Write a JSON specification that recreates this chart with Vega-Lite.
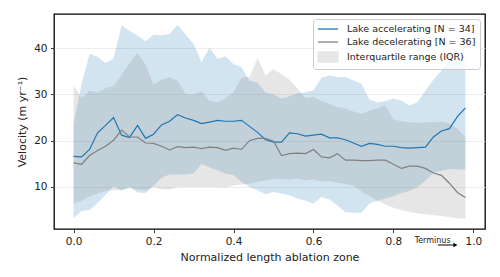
{
  "$schema": "https://vega.github.io/schema/vega-lite/v6.json",
  "width": 431,
  "height": 215,
  "autosize": {"type": "none"},
  "padding": {"left": 54, "top": 14, "right": 15, "bottom": 48},
  "background": "white",
  "config": {
    "view": {"stroke": "#000000", "strokeWidth": 1.3},
    "font": "DejaVu Sans",
    "axis": {
      "labelFont": "DejaVu Sans", "labelFontSize": 10.5, "labelColor": "#222222",
      "titleFont": "DejaVu Sans", "titleFontSize": 11, "titleFontWeight": "normal", "titleColor": "#222222",
      "tickColor": "#222222", "tickSize": 3.5, "tickWidth": 0.9, "domain": false,
      "gridColor": "#e9e9e9", "gridWidth": 0.8, "labelPadding": 3.5
    }
  },
  "datasets": {
    "main": [
      {"x":0.00,"s":"Lake accelerating [N = 34]","mean":16.6,"q25":3.3,"q75":23.7},
      {"x":0.02,"s":"Lake accelerating [N = 34]","mean":16.5,"q25":4.8,"q75":32.3},
      {"x":0.04,"s":"Lake accelerating [N = 34]","mean":18.1,"q25":5.0,"q75":38.8},
      {"x":0.06,"s":"Lake accelerating [N = 34]","mean":21.7,"q25":6.5,"q75":38.1},
      {"x":0.08,"s":"Lake accelerating [N = 34]","mean":23.3,"q25":8.3,"q75":36.8},
      {"x":0.10,"s":"Lake accelerating [N = 34]","mean":25.0,"q25":10.2,"q75":37.7},
      {"x":0.12,"s":"Lake accelerating [N = 34]","mean":21.2,"q25":9.2,"q75":44.9},
      {"x":0.14,"s":"Lake accelerating [N = 34]","mean":20.7,"q25":10.0,"q75":43.8},
      {"x":0.16,"s":"Lake accelerating [N = 34]","mean":23.3,"q25":8.8,"q75":42.7},
      {"x":0.18,"s":"Lake accelerating [N = 34]","mean":20.5,"q25":8.7,"q75":41.5},
      {"x":0.20,"s":"Lake accelerating [N = 34]","mean":21.4,"q25":10.3,"q75":42.9},
      {"x":0.22,"s":"Lake accelerating [N = 34]","mean":23.4,"q25":12.0,"q75":42.8},
      {"x":0.24,"s":"Lake accelerating [N = 34]","mean":24.2,"q25":12.7,"q75":43.1},
      {"x":0.26,"s":"Lake accelerating [N = 34]","mean":25.6,"q25":12.7,"q75":45.1},
      {"x":0.28,"s":"Lake accelerating [N = 34]","mean":24.9,"q25":12.7,"q75":43.0},
      {"x":0.30,"s":"Lake accelerating [N = 34]","mean":24.4,"q25":12.9,"q75":40.9},
      {"x":0.32,"s":"Lake accelerating [N = 34]","mean":23.7,"q25":15.0,"q75":37.0},
      {"x":0.34,"s":"Lake accelerating [N = 34]","mean":24.0,"q25":14.2,"q75":40.1},
      {"x":0.36,"s":"Lake accelerating [N = 34]","mean":24.4,"q25":13.6,"q75":37.7},
      {"x":0.38,"s":"Lake accelerating [N = 34]","mean":24.2,"q25":12.9,"q75":38.2},
      {"x":0.40,"s":"Lake accelerating [N = 34]","mean":24.2,"q25":12.5,"q75":36.6},
      {"x":0.42,"s":"Lake accelerating [N = 34]","mean":24.4,"q25":11.1,"q75":35.9},
      {"x":0.44,"s":"Lake accelerating [N = 34]","mean":23.1,"q25":10.0,"q75":33.0},
      {"x":0.46,"s":"Lake accelerating [N = 34]","mean":21.8,"q25":9.3,"q75":32.5},
      {"x":0.48,"s":"Lake accelerating [N = 34]","mean":20.2,"q25":8.4,"q75":30.5},
      {"x":0.50,"s":"Lake accelerating [N = 34]","mean":19.7,"q25":8.9,"q75":30.0},
      {"x":0.52,"s":"Lake accelerating [N = 34]","mean":19.7,"q25":8.6,"q75":29.1},
      {"x":0.54,"s":"Lake accelerating [N = 34]","mean":21.7,"q25":8.2,"q75":29.6},
      {"x":0.56,"s":"Lake accelerating [N = 34]","mean":21.5,"q25":7.5,"q75":30.2},
      {"x":0.58,"s":"Lake accelerating [N = 34]","mean":21.0,"q25":7.0,"q75":30.5},
      {"x":0.60,"s":"Lake accelerating [N = 34]","mean":21.2,"q25":6.4,"q75":30.9},
      {"x":0.62,"s":"Lake accelerating [N = 34]","mean":21.4,"q25":7.8,"q75":33.6},
      {"x":0.64,"s":"Lake accelerating [N = 34]","mean":20.6,"q25":7.3,"q75":34.1},
      {"x":0.66,"s":"Lake accelerating [N = 34]","mean":20.6,"q25":6.0,"q75":33.7},
      {"x":0.68,"s":"Lake accelerating [N = 34]","mean":20.2,"q25":4.5,"q75":33.8},
      {"x":0.70,"s":"Lake accelerating [N = 34]","mean":19.5,"q25":4.4,"q75":33.0},
      {"x":0.72,"s":"Lake accelerating [N = 34]","mean":18.8,"q25":4.4,"q75":32.3},
      {"x":0.74,"s":"Lake accelerating [N = 34]","mean":19.4,"q25":6.4,"q75":28.9},
      {"x":0.76,"s":"Lake accelerating [N = 34]","mean":19.2,"q25":7.0,"q75":28.3},
      {"x":0.78,"s":"Lake accelerating [N = 34]","mean":18.8,"q25":7.5,"q75":28.6},
      {"x":0.80,"s":"Lake accelerating [N = 34]","mean":18.8,"q25":8.0,"q75":29.1},
      {"x":0.82,"s":"Lake accelerating [N = 34]","mean":18.5,"q25":8.7,"q75":28.7},
      {"x":0.84,"s":"Lake accelerating [N = 34]","mean":18.4,"q25":9.1,"q75":27.6},
      {"x":0.86,"s":"Lake accelerating [N = 34]","mean":18.5,"q25":10.0,"q75":28.3},
      {"x":0.88,"s":"Lake accelerating [N = 34]","mean":18.6,"q25":11.4,"q75":30.8},
      {"x":0.90,"s":"Lake accelerating [N = 34]","mean":20.8,"q25":13.0,"q75":33.2},
      {"x":0.92,"s":"Lake accelerating [N = 34]","mean":22.1,"q25":13.5,"q75":35.1},
      {"x":0.94,"s":"Lake accelerating [N = 34]","mean":22.6,"q25":13.8,"q75":37.1},
      {"x":0.96,"s":"Lake accelerating [N = 34]","mean":25.2,"q25":13.8,"q75":38.0},
      {"x":0.98,"s":"Lake accelerating [N = 34]","mean":27.1,"q25":13.7,"q75":38.3},
      {"x":0.00,"s":"Lake decelerating [N = 36]","mean":15.2,"q25":6.4,"q75":32.0},
      {"x":0.02,"s":"Lake decelerating [N = 36]","mean":14.9,"q25":7.0,"q75":29.2},
      {"x":0.04,"s":"Lake decelerating [N = 36]","mean":16.8,"q25":8.0,"q75":30.8},
      {"x":0.06,"s":"Lake decelerating [N = 36]","mean":17.9,"q25":8.5,"q75":30.4},
      {"x":0.08,"s":"Lake decelerating [N = 36]","mean":18.8,"q25":9.1,"q75":31.4},
      {"x":0.10,"s":"Lake decelerating [N = 36]","mean":20.1,"q25":9.3,"q75":31.8},
      {"x":0.12,"s":"Lake decelerating [N = 36]","mean":22.3,"q25":9.3,"q75":34.2},
      {"x":0.14,"s":"Lake decelerating [N = 36]","mean":20.8,"q25":9.8,"q75":36.8},
      {"x":0.16,"s":"Lake decelerating [N = 36]","mean":20.8,"q25":9.4,"q75":39.0},
      {"x":0.18,"s":"Lake decelerating [N = 36]","mean":19.5,"q25":9.3,"q75":36.5},
      {"x":0.20,"s":"Lake decelerating [N = 36]","mean":19.4,"q25":10.0,"q75":32.1},
      {"x":0.22,"s":"Lake decelerating [N = 36]","mean":18.8,"q25":9.5,"q75":33.2},
      {"x":0.24,"s":"Lake decelerating [N = 36]","mean":18.0,"q25":9.4,"q75":33.7},
      {"x":0.26,"s":"Lake decelerating [N = 36]","mean":18.7,"q25":10.0,"q75":33.0},
      {"x":0.28,"s":"Lake decelerating [N = 36]","mean":18.5,"q25":10.0,"q75":30.1},
      {"x":0.30,"s":"Lake decelerating [N = 36]","mean":18.6,"q25":10.0,"q75":30.0},
      {"x":0.32,"s":"Lake decelerating [N = 36]","mean":18.3,"q25":10.0,"q75":30.7},
      {"x":0.34,"s":"Lake decelerating [N = 36]","mean":18.6,"q25":10.0,"q75":28.6},
      {"x":0.36,"s":"Lake decelerating [N = 36]","mean":18.5,"q25":10.0,"q75":28.3},
      {"x":0.38,"s":"Lake decelerating [N = 36]","mean":17.9,"q25":9.9,"q75":29.1},
      {"x":0.40,"s":"Lake decelerating [N = 36]","mean":18.4,"q25":10.3,"q75":30.5},
      {"x":0.42,"s":"Lake decelerating [N = 36]","mean":18.1,"q25":10.5,"q75":33.6},
      {"x":0.44,"s":"Lake decelerating [N = 36]","mean":20.0,"q25":10.7,"q75":33.8},
      {"x":0.46,"s":"Lake decelerating [N = 36]","mean":20.5,"q25":11.1,"q75":37.9},
      {"x":0.48,"s":"Lake decelerating [N = 36]","mean":20.5,"q25":11.4,"q75":34.1},
      {"x":0.50,"s":"Lake decelerating [N = 36]","mean":19.9,"q25":11.7,"q75":35.5},
      {"x":0.52,"s":"Lake decelerating [N = 36]","mean":16.8,"q25":11.7,"q75":34.4},
      {"x":0.54,"s":"Lake decelerating [N = 36]","mean":17.2,"q25":11.6,"q75":33.2},
      {"x":0.56,"s":"Lake decelerating [N = 36]","mean":17.3,"q25":11.8,"q75":31.3},
      {"x":0.58,"s":"Lake decelerating [N = 36]","mean":17.2,"q25":11.4,"q75":29.2},
      {"x":0.60,"s":"Lake decelerating [N = 36]","mean":18.1,"q25":11.6,"q75":29.5},
      {"x":0.62,"s":"Lake decelerating [N = 36]","mean":16.5,"q25":11.1,"q75":28.6},
      {"x":0.64,"s":"Lake decelerating [N = 36]","mean":16.3,"q25":11.3,"q75":28.0},
      {"x":0.66,"s":"Lake decelerating [N = 36]","mean":17.2,"q25":10.9,"q75":27.3},
      {"x":0.68,"s":"Lake decelerating [N = 36]","mean":15.8,"q25":10.7,"q75":26.9},
      {"x":0.70,"s":"Lake decelerating [N = 36]","mean":15.8,"q25":10.3,"q75":26.3},
      {"x":0.72,"s":"Lake decelerating [N = 36]","mean":15.7,"q25":9.0,"q75":25.8},
      {"x":0.74,"s":"Lake decelerating [N = 36]","mean":15.7,"q25":8.0,"q75":26.5},
      {"x":0.76,"s":"Lake decelerating [N = 36]","mean":15.8,"q25":7.0,"q75":27.0},
      {"x":0.78,"s":"Lake decelerating [N = 36]","mean":15.8,"q25":6.2,"q75":27.6},
      {"x":0.80,"s":"Lake decelerating [N = 36]","mean":14.9,"q25":5.5,"q75":24.6},
      {"x":0.82,"s":"Lake decelerating [N = 36]","mean":14.0,"q25":5.0,"q75":24.2},
      {"x":0.84,"s":"Lake decelerating [N = 36]","mean":14.5,"q25":4.6,"q75":24.0},
      {"x":0.86,"s":"Lake decelerating [N = 36]","mean":14.5,"q25":4.3,"q75":23.9},
      {"x":0.88,"s":"Lake decelerating [N = 36]","mean":14.0,"q25":4.1,"q75":24.0},
      {"x":0.90,"s":"Lake decelerating [N = 36]","mean":13.0,"q25":3.9,"q75":24.0},
      {"x":0.92,"s":"Lake decelerating [N = 36]","mean":12.5,"q25":3.7,"q75":24.1},
      {"x":0.94,"s":"Lake decelerating [N = 36]","mean":10.8,"q25":3.5,"q75":23.7},
      {"x":0.96,"s":"Lake decelerating [N = 36]","mean":8.8,"q25":3.2,"q75":22.6},
      {"x":0.98,"s":"Lake decelerating [N = 36]","mean":7.7,"q25":3.1,"q75":20.8}
    ]
  },
  "layer": [
    {
      "data": {"name": "main"},
      "mark": {"type": "area", "opacity": 0.2},
      "encoding": {
        "x": {"field": "x", "type": "quantitative",
              "scale": {"domain": [-0.049, 1.029], "nice": false, "zero": false},
              "axis": {"values": [0, 0.2, 0.4, 0.6, 0.8, 1.0], "format": ".1f", "grid": false,
                       "title": "Normalized length ablation zone", "titlePadding": 5}},
        "y": {"field": "q25", "type": "quantitative",
              "scale": {"domain": [0.9, 47.4], "nice": false, "zero": false},
              "axis": {"values": [10, 20, 30, 40], "grid": true,
                       "title": "Velocity (m yr⁻¹)", "titlePadding": 6}},
        "y2": {"field": "q75"},
        "fill": {"field": "s", "type": "nominal",
                 "scale": {"domain": ["Lake accelerating [N = 34]", "Lake decelerating [N = 36]"], "range": ["#1f77b4", "#808080"]},
                 "legend": null}
      }
    },
    {
      "data": {"name": "main"},
      "mark": {"type": "line", "strokeWidth": 1.2},
      "encoding": {
        "x": {"field": "x", "type": "quantitative"},
        "y": {"field": "mean", "type": "quantitative"},
        "color": {"field": "s", "type": "nominal",
                  "scale": {"domain": ["Lake accelerating [N = 34]", "Lake decelerating [N = 36]", "Interquartile range (IQR)"],
                            "range": ["#1f77b4", "#808080", "#e6e6e6"]},
                  "legend": {
                    "title": null, "orient": "top-right", "offset": 5, "padding": 4,
                    "fillColor": "rgba(255,255,255,0.8)", "strokeColor": "#cccccc", "cornerRadius": 3,
                    "labelFont": "DejaVu Sans", "labelFontSize": 9.5, "labelColor": "#222222",
                    "symbolSize": 100, "symbolStrokeWidth": 1.3, "labelOffset": 18, "rowPadding": 2,
                    "encode": {
                      "symbols": {
                        "update": {
                          "shape": {"signal": "datum.value === 'Interquartile range (IQR)' ? 'M-1,-1H3V1H-1Z' : 'M-1,0H3'"},
                          "fill": {"signal": "datum.value === 'Interquartile range (IQR)' ? '#e6e6e6' : 'transparent'"},
                          "stroke": {"signal": "datum.value === 'Interquartile range (IQR)' ? 'transparent' : (datum.value === 'Lake accelerating [N = 34]' ? '#1f77b4' : '#808080')"},
                          "opacity": {"value": 1}
                        }
                      }
                    }
                  }}
      }
    },
    {
      "data": {"values": [{"label": "Terminus"}]},
      "mark": {"type": "text", "fontSize": 8, "font": "DejaVu Sans", "color": "#222222", "baseline": "middle", "align": "center"},
      "encoding": {
        "x": {"datum": 0.898},
        "y": {"datum": -1.6},
        "text": {"field": "label"}
      }
    },
    {
      "data": {"values": [{"label": "arrow"}]},
      "mark": {"type": "rule", "color": "#000000", "strokeWidth": 1},
      "encoding": {
        "x": {"datum": 0.911},
        "x2": {"datum": 0.95},
        "y": {"datum": -2.56}
      }
    },
    {
      "data": {"values": [{"label": "arrow"}]},
      "mark": {"type": "point", "shape": "triangle-right", "filled": true, "color": "#000000", "size": 22, "opacity": 1},
      "encoding": {
        "x": {"datum": 0.955},
        "y": {"datum": -2.56}
      }
    }
  ]
}
